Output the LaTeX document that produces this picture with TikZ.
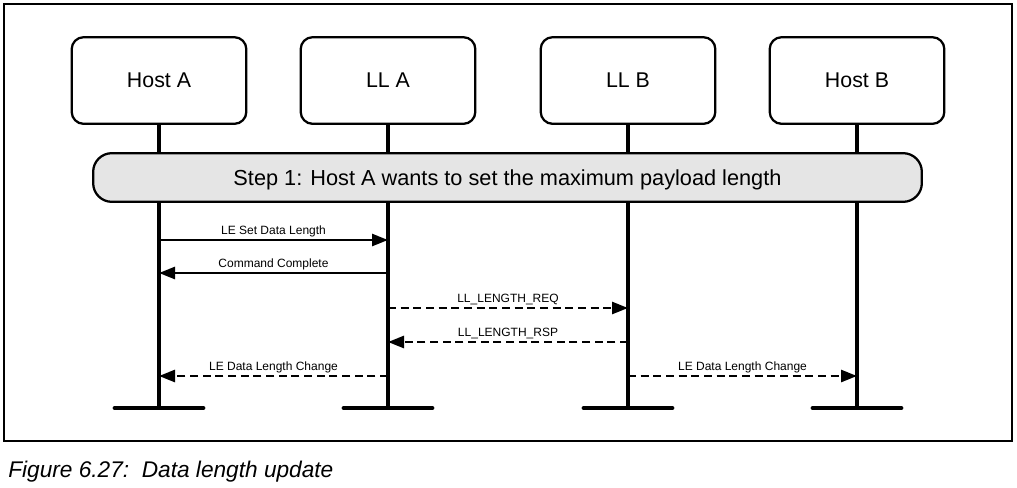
\documentclass[tikz,border=0pt]{standalone}
\usepackage{fontspec}
\setmainfont{Liberation Sans}
\usetikzlibrary{arrows.meta}
\tikzset{
  entity/.style={draw, line width=1.7pt, rounded corners=9pt, minimum width=131pt, minimum height=65pt, font=\fontsize{16}{19}\selectfont, inner sep=0pt, text depth=-1.5pt},
  stepbox/.style={draw, line width=1.7pt, fill=black!10, rounded corners=14pt, minimum width=621.5pt, minimum height=36.5pt, font=\fontsize{16.3}{19}\selectfont, inner sep=0pt, text depth=-1.5pt},
  life/.style={line width=2.6pt},
  bar/.style={line width=3.6pt, line cap=round},
  msg/.style={line width=2pt, -{Triangle[length=12pt,width=9pt]}},
  dmsg/.style={msg, dash pattern=on 6pt off 3.5pt},
  lbl/.style={font=\fontsize{9}{11}\selectfont, above=1.5pt, inner sep=0pt}
}
\begin{document}
\begin{tikzpicture}[x=0.75pt,y=-0.75pt]
\useasboundingbox (0,0) rectangle (1017,487);
\draw[line width=0.8pt] (4,4) rectangle (1012,441);
\node[entity] (hA) at (159,80.5) {Host A};
\node[entity] (lA) at (388,80.5) {LL A};
\node[entity] (lB) at (628,80.5) {LL B};
\node[entity] (hB) at (857,80.5) {Host B};
\coordinate (eA) at (159,408);
\coordinate (eLA) at (388,408);
\coordinate (eLB) at (628,408);
\coordinate (eB) at (857,408);
\foreach \n/\e in {hA/eA, lA/eLA, lB/eLB, hB/eB}{
  \draw[life] (\n.south) -- (\e);
  \draw[bar] ([xshift=-33pt]\e) -- ([xshift=33pt]\e);
}
\node[stepbox] (step) at (507.5,177.5) {Step 1: Host A wants to set the maximum payload length};
\draw[msg] (hA.south |- 0,240) -- node[lbl] (m1) {LE Set Data Length} (lA.south |- 0,240);
\draw[msg] (lA.south |- 0,273) -- node[lbl] (m2) {Command Complete} (hA.south |- 0,273);
\draw[dmsg] (lA.south |- 0,308) -- node[lbl] (m3) {LL\_LENGTH\_REQ} (lB.south |- 0,308);
\draw[dmsg] (lB.south |- 0,342) -- node[lbl] (m4) {LL\_LENGTH\_RSP} (lA.south |- 0,342);
\draw[dmsg] (lA.south |- 0,376) -- node[lbl] (m5) {LE Data Length Change} (hA.south |- 0,376);
\draw[dmsg] (lB.south |- 0,376) -- node[lbl] (m6) {LE Data Length Change} (hB.south |- 0,376);
\node[anchor=base west, inner sep=0pt, font=\fontsize{17}{20}\selectfont\itshape] (cap) at (8,477) {Figure 6.27:\ \ Data length update};
\end{tikzpicture}
\end{document}
